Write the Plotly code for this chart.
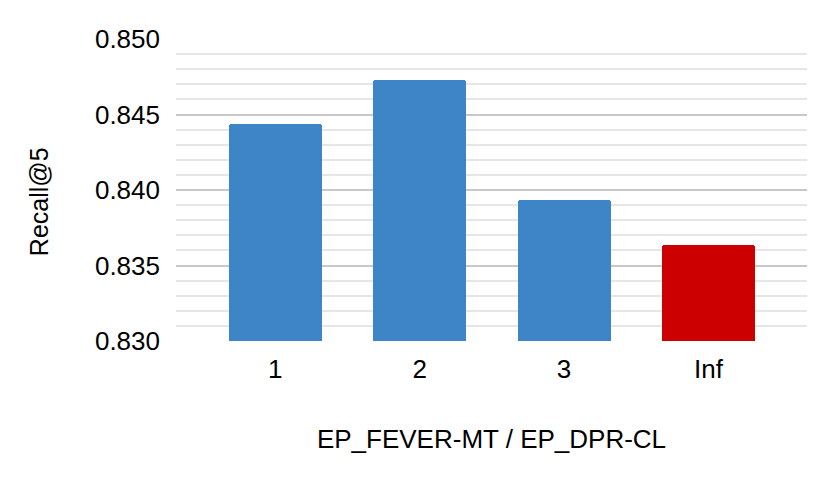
import plotly.graph_objects as go

categories = ["1", "2", "3", "Inf"]
recall_at_5 = [0.84435, 0.84728, 0.83933, 0.83639]
bar_colors = ["#3d85c6", "#3d85c6", "#3d85c6", "#cc0000"]
y_ticks = [0.830, 0.835, 0.840, 0.845, 0.850]
y_tick_labels = ["0.830", "0.835", "0.840", "0.845", "0.850"]

fig = go.Figure(go.Bar(
    x=categories, y=recall_at_5,
    marker=dict(color=bar_colors, cornerradius=3, line=dict(width=0)),
    width=0.644,
))

# page body has an 8px margin, so the figure is shrunk by 8px and offsets reduced
font_family = "Liberation Sans, Arial, sans-serif"
fig.update_layout(
    width=822, height=472,
    margin=dict(l=168, r=23, t=31, b=139),
    plot_bgcolor="white", paper_bgcolor="white",
    font=dict(family=font_family, size=26, color="#000000"),
    showlegend=False,
    bargap=0,
)
fig.update_xaxes(
    range=[-0.687, 3.682],
    showgrid=False, zeroline=False, showline=False,
    ticks="", ticklabelstandoff=10,
    tickfont=dict(size=26),
    title=dict(text="EP_FEVER-MT / EP_DPR-CL", font=dict(size=26), standoff=46),
)
fig.update_yaxes(
    range=[0.830, 0.850],
    tickvals=y_ticks, ticktext=y_tick_labels,
    showgrid=True, gridcolor="#c8c8c8", gridwidth=2,
    minor=dict(dtick=0.001, showgrid=True, gridcolor="#e6e6e6", gridwidth=2, tick0=0.830),
    zeroline=False, showline=False, ticks="",
    ticklabelstandoff=15,
    tickfont=dict(size=26),
)
fig.add_annotation(
    text="Recall@5", textangle=-90,
    xref="paper", yref="paper", x=-0.217, y=0.46,
    xanchor="center", yanchor="middle", showarrow=False,
    font=dict(size=25, family=font_family, color="#000000"),
)

fig.write_html("out.html")
